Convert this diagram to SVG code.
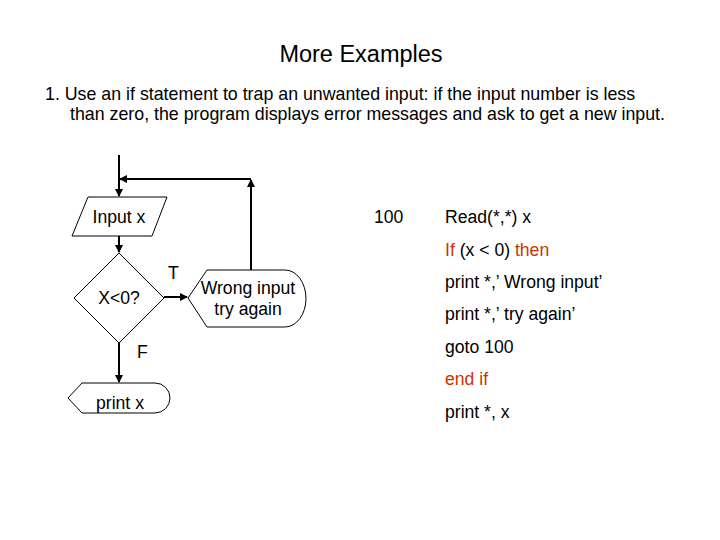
<svg xmlns="http://www.w3.org/2000/svg" width="720" height="540" viewBox="0 0 720 540">
<defs>
<style>
text{font-family:"Liberation Sans",Arial,sans-serif;font-size:17.6px;fill:#000}
.s{fill:#fff;stroke:#000;stroke-width:1}
.c{fill:none;stroke:#000;stroke-width:2}
.r{fill:#cc3300}
</style>
<marker id="a" markerWidth="8" markerHeight="8" refX="7" refY="4" orient="auto" markerUnits="userSpaceOnUse"><path d="M0,0 L8,4 L0,8 Z" fill="#000"/></marker>
</defs>
<rect width="720" height="540" fill="#fff"/>
<text x="361" y="62" text-anchor="middle" style="font-size:23.5px">More Examples</text>
<text x="45" y="100" style="font-size:17.8px">1. Use an if statement to trap an unwanted input: if the input number is less</text>
<text x="70" y="120" style="font-size:17.8px">than zero, the program displays error messages and ask to get a new input.</text>
<g id="connectors">
<path class="c" d="M119,155 V196" marker-end="url(#a)"/>
<path class="c" d="M251,270 V180" marker-end="url(#a)"/>
<path class="c" d="M251,179 H120" marker-end="url(#a)"/>
<path class="c" d="M119,236 V252" marker-end="url(#a)"/>
<path class="c" d="M164,297 H187" marker-end="url(#a)"/>
<path class="c" d="M119,343 V382" marker-end="url(#a)"/>
</g>
<g id="input"><path class="s" d="M88,197 L167,197 L152,236 L72,236 Z"/><text x="119" y="223" text-anchor="middle">Input x</text></g>
<g id="decision"><path class="s" d="M119,253 L164,298 L119,343 L74,298 Z"/><text x="119" y="304" text-anchor="middle">X&lt;0?</text></g>
<g id="labelT"><text x="168" y="279">T</text></g>
<g id="labelF"><text x="137" y="358">F</text></g>
<g id="wrong"><path class="s" d="M188,298 L207,270 L285,270 A21,28.5 0 0 1 285,327 L207,327 Z"/><text x="248" y="294" text-anchor="middle">Wrong input</text><text x="248" y="315" text-anchor="middle">try again</text></g>
<g id="print"><path class="s" d="M68,398 L82,383 L155,383 A15,15 0 0 1 155,413 L82,413 Z"/><text x="120" y="409" text-anchor="middle">print x</text></g>
<g id="code">
<text x="374" y="223">100</text>
<text x="445" y="223">Read(*,*) x</text>
<text x="445" y="256"><tspan class="r">If</tspan> (x &lt; 0) <tspan class="r">then</tspan></text>
<text x="445" y="288">print *,’ Wrong input’</text>
<text x="445" y="320">print *,’ try again’</text>
<text x="445" y="353">goto 100</text>
<text x="445" y="385" class="r">end if</text>
<text x="445" y="418">print *, x</text>
</g>
</svg>
